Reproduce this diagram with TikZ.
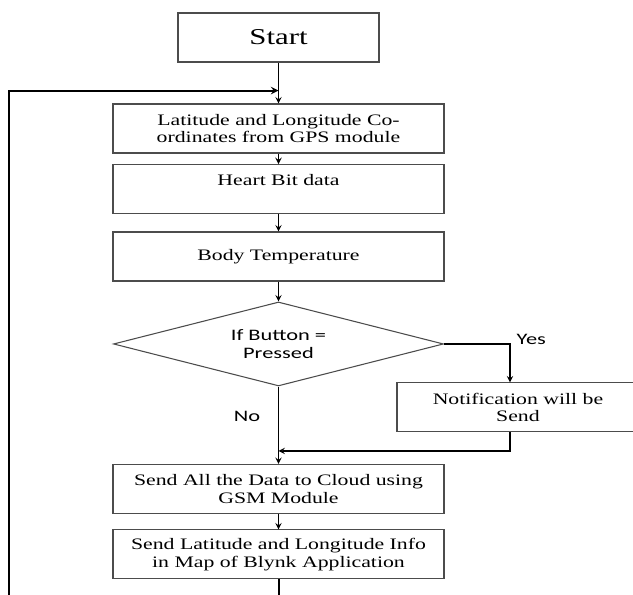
\documentclass[tikz,border=0pt]{standalone}
\usepackage{fontspec}
\setmainfont{Liberation Serif}[FakeStretch=1.36]
\newfontfamily\labelfont{Carlito}[FakeStretch=1.4]
\usepackage{tikz}
\usetikzlibrary{shapes.geometric, arrows}

\tikzset{
  process/.style={rectangle, draw=black!70, line width=0.8pt, text centered, align=center,
    minimum width=248.25pt, minimum height=36.75pt, inner sep=2pt,
    font=\fontsize{12}{13}\selectfont},
  decision/.style={diamond, draw=black!70, line width=0.8pt, aspect=3.9, align=center,
    minimum width=247.5pt, minimum height=63pt, inner sep=0pt,
    font=\labelfont\fontsize{12}{14}\selectfont},
  flow/.style={draw, line width=1.1pt, ->, >=stealth},
  answer/.style={font=\labelfont\fontsize{12}{14}\selectfont}
}

\begin{document}
\begin{tikzpicture}[x=0.75pt, y=-0.75pt]
        \useasboundingbox (0,0) rectangle (633,594);

        % Define nodes
        \node (start) [process, minimum width=150.75pt, font=\fontsize{17}{19}\selectfont] at (278.5,37.5) {Start};
        \node (gps) [process, below of=start, node distance=68.25pt] {Latitude and Longitude Co-\\ordinates from GPS module};
        \node (heart) [process, below of=gps, node distance=45.4pt] {Heart Bit data\\\mbox{}};
        \node (body) [process, below of=heart, node distance=50.6pt] {Body Temperature};
        \node (button) [decision, below of=body, node distance=65.6pt] {If Button =\\Pressed};
        \node (notify) [process, right of=button, node distance=179.6pt, yshift=-47.6pt, minimum width=181.5pt] {Notification will be\\Send};
        \node (cloud) [process, below of=button, node distance=108.75pt] {Send All the Data to Cloud using\\GSM Module};
        \node (blynk) [process, below of=cloud, node distance=49.1pt] {Send Latitude and Longitude Info\\in Map of Blynk Application};
        \node (yes) [answer, anchor=west] at (512,339) {Yes};
        \node (no) [answer] at (247,416) {No};

        \coordinate (join) at ([yshift=-21pt]start.south);
        \coordinate (merge) at ([yshift=9.75pt]cloud.north);
        \coordinate (corner) at (9,600);

        % Draw arrows
        \draw[flow] (start) -- (gps);
        \draw[flow] (gps) -- (heart);
        \draw[flow] (heart) -- (body);
        \draw[flow] (body) -- (button);
        \draw[flow] (button.east) -| ([xshift=-6pt]notify.north);
        \draw[flow] ([xshift=-6pt]notify.south) |- (merge);
        \draw[flow] (button.south) -- (cloud.north);
        \draw[flow] (cloud) -- (blynk);
        \draw[flow, line width=1.5pt] (blynk.south) |- (corner) |- (join);
    \end{tikzpicture}
\end{document}
